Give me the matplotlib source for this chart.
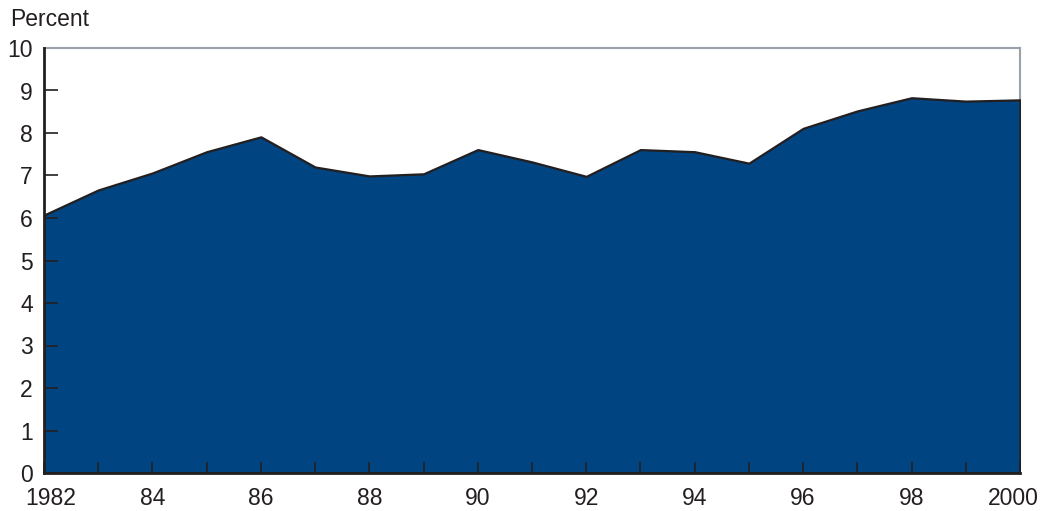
import matplotlib
matplotlib.use("Agg")
import matplotlib.pyplot as plt
import matplotlib.transforms as mtransforms

years = list(range(1982, 2001))
values = [6.07, 6.66, 7.06, 7.56, 7.91, 7.20, 6.99, 7.04, 7.61, 7.32,
          6.98, 7.61, 7.56, 7.29, 8.11, 8.52, 8.83, 8.75, 8.78]
xtick_labels = ["1982", "", "84", "", "86", "", "88", "", "90", "", "92",
                "", "94", "", "96", "", "98", "", "2000"]
yticks = list(range(0, 11))

plt.rcParams['font.family'] = ['Liberation Sans', 'DejaVu Sans']

fig = plt.figure(figsize=(10.42, 5.11), dpi=100)
ax = fig.add_axes([44/1042, 38/511, (1020-44)/1042, (473-48)/511])

ax.fill_between(years, values, 0, facecolor="#004481", edgecolor="#231f20",
                linewidth=1.6, zorder=2)
ax.set_xlim(1982, 2000)
ax.set_ylim(0, 10)

ax.set_yticks(yticks)
ax.set_yticklabels([str(v) for v in yticks])
ax.set_xticks(years)
ax.set_xticklabels(xtick_labels)
ax.set_axisbelow(False)

ax.tick_params(axis='y', direction='in', length=10, width=1.2, color="#231f20",
               labelsize=16.5, pad=8, labelcolor="#231f20")
ax.tick_params(axis='x', direction='in', length=8, width=1.2, color="#231f20",
               labelsize=16.5, pad=10, labelcolor="#231f20")
ax.yaxis.get_major_ticks()[-1].tick1line.set_visible(False)

for s in ["left", "bottom"]:
    ax.spines[s].set_color("#231f20")
    ax.spines[s].set_linewidth(2.0)
    ax.spines[s].set_zorder(6)
for s in ["top", "right"]:
    ax.spines[s].set_color("#9ba1ab")
    ax.spines[s].set_linewidth(1.5)
    ax.spines[s].set_zorder(1)

labels = ax.get_xticklabels()
labels[0].set_transform(labels[0].get_transform() +
                        mtransforms.ScaledTranslation(7/100, 0, fig.dpi_scale_trans))
labels[-1].set_transform(labels[-1].get_transform() +
                         mtransforms.ScaledTranslation(-7/100, 0, fig.dpi_scale_trans))

fig.text(10/1042, 1 - 20/511, "Percent", fontsize=16.5, color="#231f20",
         ha="left", va="center")

fig.savefig("out.png", dpi=100)
